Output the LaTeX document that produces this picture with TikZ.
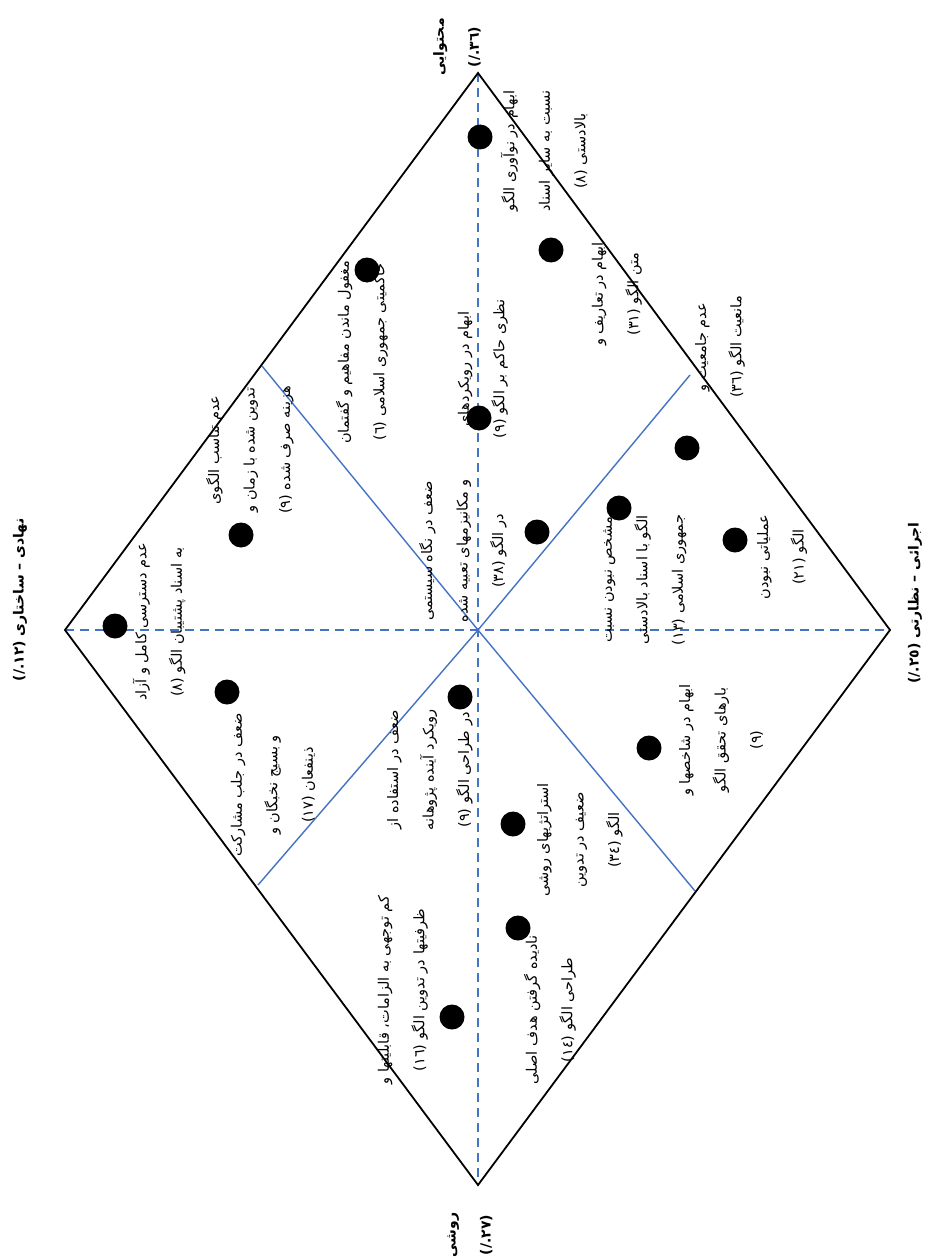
\documentclass[tikz,border=0pt]{standalone}
\usepackage{fontspec}
\newfontfamily\fa[Script=Arabic]{DejaVu Sans}
\TeXXeTstate=1
\definecolor{ublue}{HTML}{4472C4}
\tikzset{
  edge/.style={draw=black, line width=1.8pt},
  axis/.style={draw=ublue, line width=1.8pt, dash pattern=on 9pt off 6pt},
  split/.style={draw=ublue, line width=1.4pt},
  dot/.style={circle, fill=black, minimum size=25pt, inner sep=0pt},
  lbl/.style={rotate=90, align=center, inner sep=0pt, font=\fa\fontsize{14.5}{35.5}\selectfont},
  corner/.style={rotate=90, align=center, inner sep=0pt, font=\fa\bfseries\fontsize{14}{35}\selectfont}
}
\begin{document}
\begin{tikzpicture}[x=1pt,y=-1pt]
\useasboundingbox (0,0) rectangle (936,1260);
% corners
\coordinate (T) at (478,73);
\coordinate (L) at (65,630);
\coordinate (B) at (478,1185);
\coordinate (R) at (890,630);
\coordinate (C) at (478,630);
\coordinate (s1a) at (262,366);
\coordinate (s1b) at (695,891);
\coordinate (s2a) at (258,885);
\coordinate (s2b) at (690,375);
% axes
\draw[axis] (T) -- (B);
\draw[axis] (L) -- (R);
\draw[split] (s1a) -- (C) -- (s1b);
\draw[split] (s2a) -- (C) -- (s2b);
\draw[edge, line join=miter] (T) -- (R) -- (B) -- (L) -- cycle;
% dots
\foreach \n/\x/\y in {d1/480/137, d2/551/250, d3/367/270, d4/479/418, d5/241/535, d6/537/532, d7/619/508, d8/687/448, d9/735/540, d10/115/626, d11/227/692, d12/460/697, d13/649/748, d14/513/824, d15/518/928, d16/452/1017}
  \node[dot] (\n) at (\x,\y) {};
% labels
\node[lbl] (tA) at (544,151) {\beginR ابهام در نوآوری الگو\endR\\\beginR نسبت به سایر اسناد\endR\\\beginR بالادستی (٨)\endR};
\node[lbl] (tB) at (617,294) {\beginR ابهام در تعاریف و\endR\\\beginR متن الگو (٣١)\endR};
\node[lbl] (tC) at (720,347) {\beginR عدم جامعیت و\endR\\\beginR مانعیت الگو (٣٦)\endR};
\node[lbl] (tD) at (362,352) {\beginR مغفول ماندن مفاهیم و گفتمان\endR\\\beginR حاکمیتی جمهوری اسلامی (٦)\endR};
\node[lbl] (tE) at (483,369) {\beginR ابهام در رویکردهای\endR\\\beginR نظری حاکم بر الگو (٩)\endR};
\node[lbl] (tF) at (250,450) {\beginR عدم تناسب الگوی\endR\\\beginR تدوین شده با زمان و\endR\\\beginR هزینه صرف شده (٩)\endR};
\node[lbl] (tG) at (159,622) {\beginR عدم دسترسی کامل و آزاد\endR\\\beginR به اسناد پشتیبان الگو (٨)\endR};
\node[lbl] (tH) at (463,551) {\beginR ضعف در نگاه سیستمی\endR\\\beginR و مکانیزمهای تعبیه شده\endR\\\beginR در الگو (٣٨)\endR};
\node[lbl] (tI) at (645,580) {\beginR مشخص نبودن نسبت\endR\\\beginR الگو با اسناد بالادستی\endR\\\beginR جمهوری اسلامی (١٣)\endR};
\node[lbl] (tJ) at (782,557) {\beginR عملیاتی نبودن\endR\\\beginR الگو (٢١)\endR};
\node[lbl] (tK) at (273,785) {\beginR ضعف در جلب مشارکت\endR\\\beginR و بسیج نخبگان و\endR\\\beginR ذینفعان (١٧)\endR};
\node[lbl] (tL) at (430,770) {\beginR ضعف در استفاده از\endR\\\beginR رویکرد آینده پژوهانه\endR\\\beginR در طراحی الگو (٩)\endR};
\node[lbl] (tM) at (721,740) {\beginR ابهام در شاخصها و\endR\\\beginR بارهای تحقق الگو\endR\\\beginR (٩)\endR};
\node[lbl] (tN) at (580,840) {\beginR استراتژیهای روشی\endR\\\beginR ضعیف در تدوین\endR\\\beginR الگو (٣٤)\endR};
\node[lbl] (tO) at (550,1010) {\beginR نادیده گرفتن هدف اصلی\endR\\\beginR طراحی الگو (١٤)\endR};
\node[lbl] (tP) at (403,990) {\beginR کم توجهی به الزامات، قابلیتها و\endR\\\beginR ظرفیتها در تدوین الگو (١٦)\endR};
% corner labels
\node[corner] (cT) at (457,47) {\beginR محتوایی\endR\\\beginL(٣٦./)\endL};
\node[corner] (cL) at (20,600) {\beginR نهادی – ساختاری \beginL(١٢./)\endL\endR};
\node[corner] (cR) at (915,603) {\beginR اجرائی – نظارتی \beginL(٢٥./)\endL\endR};
\node[corner] (cB) at (470,1235) {\beginR روشی\endR\\\beginL(٢٧./)\endL};
\end{tikzpicture}
\end{document}
